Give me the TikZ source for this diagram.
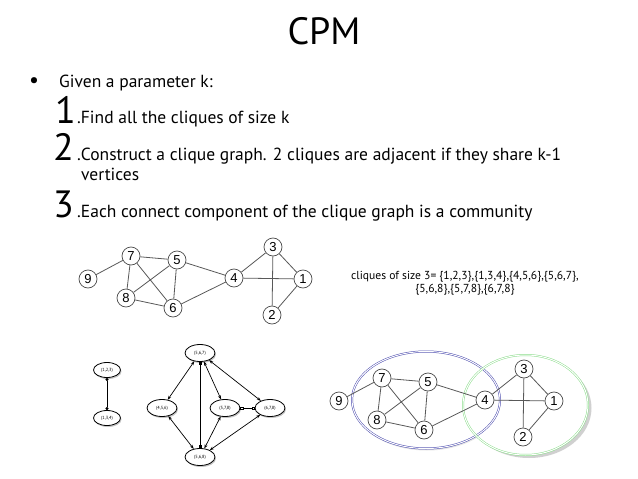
\documentclass[tikz,border=0pt]{standalone}
\usepackage{fontspec}
\setmainfont{PT Sans}
\newfontfamily\graphfont{Liberation Sans}
\usetikzlibrary{arrows.meta,shadows,shapes.geometric}
\begin{document}
\begin{tikzpicture}[x=1pt,y=-1pt,
  txt/.style={anchor=base west,inner sep=0pt,font=\fontsize{17.5}{20}\selectfont},
  numeral/.style={anchor=base west,inner sep=0pt,font=\fontsize{38}{40}\selectfont},
  vtx/.style={circle,draw=black!70,line width=0.7pt,minimum size=18pt,inner sep=0pt,fill=white,font=\graphfont\fontsize{13}{13}\selectfont},
  gedge/.style={draw=black!65,line width=0.8pt},
  cq/.style={ellipse,draw=black,line width=0.8pt,fill=white,minimum width=30pt,minimum height=17pt,inner sep=0pt,font=\fontsize{4.5}{5}\selectfont,drop shadow={shadow xshift=1pt,shadow yshift=-1.5pt,fill=black!45}},
  cqsmall/.style={cq,minimum width=27pt,minimum height=15pt},
  biarrow/.style={line width=0.7pt,{Stealth[length=4pt,width=3pt]}-{Stealth[length=4pt,width=3pt]}},
  dotend/.style={line width=0.7pt,{Circle[length=3pt]}-{Circle[length=3pt]}},
  sqend/.style={line width=0.7pt,{Square[length=3pt]}-{Square[length=3pt]}},
  opensq/.style={line width=0.7pt,{Square[open,length=3pt,fill=white]}-{Square[open,length=3pt,fill=white]}},
  comm/.style={line width=0.5pt,double=white,double distance=1pt}
]
\useasboundingbox (0,0) rectangle (638,479);
\fill[white] (0,0) rectangle (638,479);

% title and text
\node[font=\fontsize{38}{40}\selectfont,inner sep=0pt] (title) at (324,31) {CPM};
\node[inner sep=0pt,font=\fontsize{22}{24}\selectfont] (bul) at (34,83) {•};
\node[txt] (given) at (59,87) {Given a parameter k:};
\node[numeral] (n1) at (55,123) {1};
\node[txt] (t1) at (77,123) {.Find all the cliques of size k};
\node[numeral] (n2) at (53,160) {2};
\node[txt] (t2) at (77,160) {.Construct a clique graph. 2 cliques are adjacent if they share k-1};
\node[txt] (t2b) at (81,180) {vertices};
\node[numeral] (n3) at (53,217) {3};
\node[txt] (t3) at (77,217) {.Each connect component of the clique graph is a community};

% cliques list
\node[inner sep=0pt,font=\fontsize{11.6}{13.5}\selectfont,align=center,anchor=center] (cl) at (465,283)
  {cliques of size 3= \{1,2,3\},\{1,3,4\},\{4,5,6\},\{5,6,7\},\\\{5,6,8\},\{5,7,8\},\{6,7,8\}};

% community ellipses
\fill[black!30,opacity=0.6] (529,408) ellipse [x radius=62.5pt,y radius=50pt];
\fill[black!10] (427,402) ellipse [x radius=74pt,y radius=48.5pt];
\fill[white] (525.5,405) ellipse [x radius=62.5pt,y radius=50pt];
\fill[white] (426,400) ellipse [x radius=74pt,y radius=48.5pt];
\draw[comm,draw=blue!55!black!70] (426,400) ellipse [x radius=74pt,y radius=48.5pt];
\draw[comm,draw=green!70!black!45] (525.5,405) ellipse [x radius=62.5pt,y radius=50pt];

% two copies of the graph
\foreach \p/\dx/\dy in {a/0/0,b/251/122}{
\begin{scope}[shift={(\dx,\dy)}]
  \node[vtx] (\p9) at (88,279) {9};
  \node[vtx] (\p7) at (131,256) {7};
  \node[vtx] (\p5) at (177,260) {5};
  \node[vtx] (\p8) at (126,298) {8};
  \node[vtx] (\p6) at (173,308) {6};
  \node[vtx] (\p4) at (234,278) {4};
  \node[vtx] (\p3) at (273,247) {3};
  \node[vtx] (\p1) at (303,279) {1};
  \node[vtx] (\p2) at (272,315) {2};
  \path[gedge] (\p9)--(\p7) (\p7)--(\p5) (\p7)--(\p8) (\p7)--(\p6) (\p5)--(\p8) (\p5)--(\p6)
    (\p5)--(\p4) (\p8)--(\p6) (\p6)--(\p4) (\p4)--(\p3) (\p4)--(\p1) (\p3)--(\p1) (\p3)--(\p2) (\p1)--(\p2);
\end{scope}
}

% clique graph
\node[cqsmall] (c123) at (107,370) {(1,2,3)};
\node[cqsmall] (c134) at (107,418) {(1,3,4)};
\node[cq] (c567) at (200,353) {(5,6,7)};
\node[cq] (c456) at (162,408) {(4,5,6)};
\node[cq] (c578) at (225,408) {(5,7,8)};
\node[cq] (c678) at (270,408) {(6,7,8)};
\node[cq] (c568) at (200,457) {(5,6,8)};
\draw[dotend] (c123) -- (c134);
\draw[biarrow] (c567) -- (c456);
\draw[sqend] (c567) -- (c568);
\draw[biarrow] (c567) -- (c578);
\draw[biarrow] (c567) -- (c678);
\draw[biarrow] (c456) -- (c568);
\draw[biarrow] (c578) -- (c568);
\draw[biarrow] (c678) -- (c568);
\draw[opensq] (c578) -- (c678);
\end{tikzpicture}
\end{document}
